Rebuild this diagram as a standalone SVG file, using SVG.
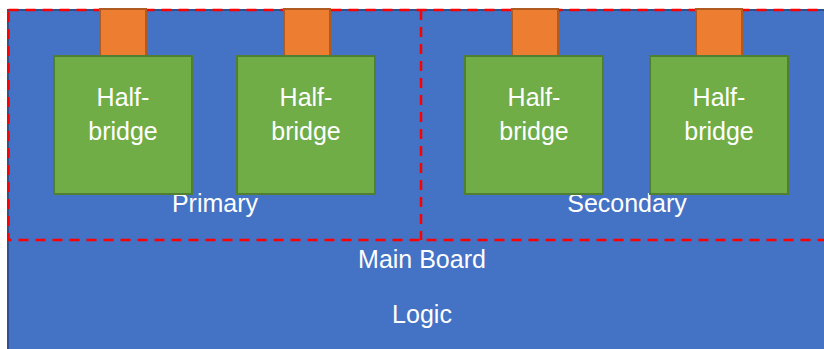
<svg xmlns="http://www.w3.org/2000/svg" width="824" height="349" viewBox="0 0 824 349">
  <style>
    .board { fill: #4472C4; stroke: #2F528F; stroke-width: 2; }
    .zone { fill: none; stroke: #FF0000; stroke-width: 2.5; stroke-dasharray: 10 7; }
    .tab { fill: #ED7D31; stroke: #AE5A21; stroke-width: 2; }
    .hb { fill: #70AD47; stroke: #507E32; stroke-width: 2; }
    .lbl { font-family: "Liberation Sans", Arial, sans-serif; font-size: 25px; fill: #FFFFFF; text-anchor: middle; }
  </style>
  <rect width="824" height="349" fill="#FFFFFF"/>

  <!-- main board -->
  <g id="main-board">
    <rect class="board" x="8" y="10" width="830" height="350"/>
    <text class="lbl" x="422" y="268">Main Board</text>
    <text class="lbl" x="422" y="323">Logic</text>
  </g>

  <!-- primary / secondary zones -->
  <g id="zones">
    <rect class="zone" x="8.5" y="10" width="830" height="230"/>
    <line class="zone" x1="421" y1="10" x2="421" y2="240"/>
  </g>

  <g id="primary-label">
    <text class="lbl" x="215" y="212">Primary</text>
  </g>
  <g id="secondary-label">
    <text class="lbl" x="627" y="212">Secondary</text>
  </g>

  <!-- half-bridge modules with connector tabs -->
  <g id="hb1">
    <rect class="tab" x="100" y="9" width="46" height="47"/>
    <rect class="hb" x="54" y="56" width="138" height="138"/>
    <text class="lbl" x="123" y="106">Half-</text>
    <text class="lbl" x="123" y="140">bridge</text>
  </g>
  <g id="hb2">
    <rect class="tab" x="284" y="9" width="46" height="47"/>
    <rect class="hb" x="237" y="56" width="138" height="138"/>
    <text class="lbl" x="306" y="106">Half-</text>
    <text class="lbl" x="306" y="140">bridge</text>
  </g>
  <g id="hb3">
    <rect class="tab" x="512" y="9" width="46" height="47"/>
    <rect class="hb" x="465" y="56" width="138" height="138"/>
    <text class="lbl" x="534" y="106">Half-</text>
    <text class="lbl" x="534" y="140">bridge</text>
  </g>
  <g id="hb4">
    <rect class="tab" x="696" y="9" width="46" height="47"/>
    <rect class="hb" x="650" y="56" width="138" height="138"/>
    <text class="lbl" x="719" y="106">Half-</text>
    <text class="lbl" x="719" y="140">bridge</text>
  </g>
</svg>
